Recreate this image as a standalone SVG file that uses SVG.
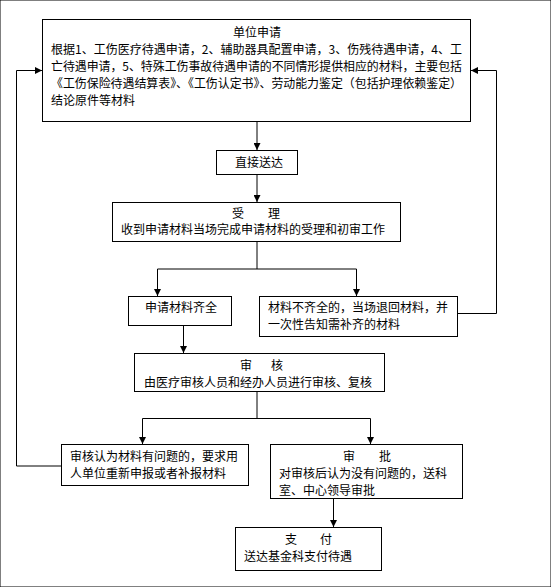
<svg xmlns="http://www.w3.org/2000/svg" width="551" height="587" viewBox="0 0 551 587">
<style>
rect{fill:#fff;stroke:#000;stroke-width:1}
text{font-family:"Noto Sans CJK SC","Liberation Sans",sans-serif;font-size:12px;fill:#000}
.c{text-anchor:middle}
.ln{fill:none;stroke:#000;stroke-width:1}
</style>
<defs>
<marker id="ah" viewBox="0 0 8 8" refX="8" refY="4" markerWidth="7" markerHeight="7" markerUnits="userSpaceOnUse" orient="auto">
<path d="M0,0 L8,4 L0,8 z" fill="#000"/>
</marker>
</defs>
<rect width="551" height="587" fill="#fff" stroke="none"/>
<g id="connectors">
<path class="ln" d="M257,122 V150" marker-end="url(#ah)"/>
<path class="ln" d="M257,175 V202" marker-end="url(#ah)"/>
<path class="ln" d="M257,242 V269"/>
<path class="ln" d="M157.5,269 H356.5"/>
<path class="ln" d="M157.5,269 V296" marker-end="url(#ah)"/>
<path class="ln" d="M356.5,269 V296" marker-end="url(#ah)"/>
<path class="ln" d="M458,313.5 H496.5 V70.5 H471" marker-end="url(#ah)"/>
<path class="ln" d="M183.5,326 V353" marker-end="url(#ah)"/>
<path class="ln" d="M257,392 V418.5"/>
<path class="ln" d="M142.5,418.5 H370.5"/>
<path class="ln" d="M142.5,418.5 V444" marker-end="url(#ah)"/>
<path class="ln" d="M370.5,418.5 V444" marker-end="url(#ah)"/>
<path class="ln" d="M61,466 H16.5 V70.5 H42" marker-end="url(#ah)"/>
<path class="ln" d="M333.5,499 V527" marker-end="url(#ah)"/>
</g>
<g id="n1">
<rect x="42.5" y="19.5" width="428" height="102"/>
<text class="c" x="257" y="37">单位申请</text>
<text x="51" y="53.5" textLength="411" lengthAdjust="spacingAndGlyphs">根据1、工伤医疗待遇申请，2、辅助器具配置申请，3、伤残待遇申请，4、工</text>
<text x="51" y="70.5" textLength="411" lengthAdjust="spacingAndGlyphs">亡待遇申请，5、特殊工伤事故待遇申请的不同情形提供相应的材料，主要包括</text>
<text x="51" y="87.5" textLength="411" lengthAdjust="spacingAndGlyphs">《工伤保险待遇结算表》、《工伤认定书》、劳动能力鉴定（包括护理依赖鉴定）</text>
<text x="51" y="104.5">结论原件等材料</text>
</g>
<g id="n2">
<rect x="216.5" y="150.5" width="81" height="24"/>
<text class="c" x="259" y="167">直接送达</text>
</g>
<g id="n3">
<rect x="112.5" y="202.5" width="288" height="39"/>
<text x="232" y="217.5">受<tspan x="268">理</tspan></text>
<text x="121" y="234">收到申请材料当场完成申请材料的受理和初审工作</text>
</g>
<g id="n4">
<rect x="128.5" y="296.5" width="103" height="29"/>
<text class="c" x="181" y="312">申请材料齐全</text>
</g>
<g id="n5">
<rect x="259.5" y="296.5" width="198" height="40"/>
<text x="268" y="312">材料不齐全的，当场退回材料，并</text>
<text x="268" y="329">一次性告知需补齐的材料</text>
</g>
<g id="n6">
<rect x="134.5" y="353.5" width="250" height="38"/>
<text x="240" y="369.5">审<tspan x="271">核</tspan></text>
<text x="144" y="386.5">由医疗审核人员和经办人员进行审核、复核</text>
</g>
<g id="n7">
<rect x="61.5" y="444.5" width="187" height="41"/>
<text x="70" y="461">审核认为材料有问题的，要求用</text>
<text x="70" y="478">人单位重新申报或者补报材料</text>
</g>
<g id="n8">
<rect x="270.5" y="444.5" width="192" height="54"/>
<text x="343" y="460.5">审<tspan x="379">批</tspan></text>
<text x="279" y="477.5">对审核后认为没有问题的，送科</text>
<text x="279" y="494.5">室、中心领导审批</text>
</g>
<g id="n9">
<rect x="235.5" y="527.5" width="146" height="43"/>
<text x="285" y="544">支<tspan x="320">付</tspan></text>
<text x="244" y="561">送达基金科支付待遇</text>
</g>
</svg>
